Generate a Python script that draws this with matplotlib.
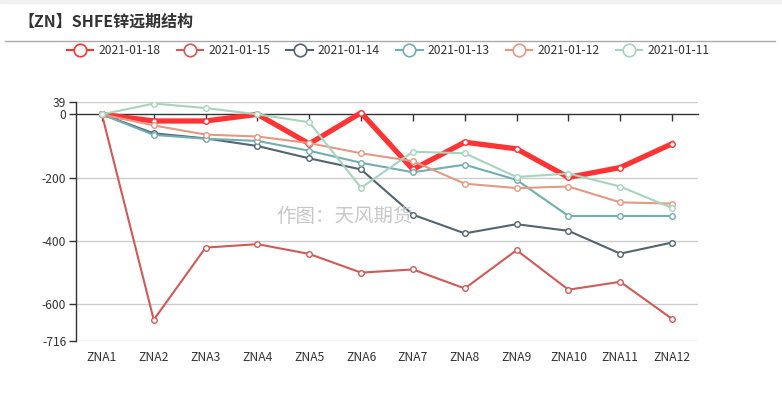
import numpy as np
import matplotlib
matplotlib.use('Agg')
import matplotlib.pyplot as plt
from matplotlib.lines import Line2D

plt.rcParams['font.family'] = ['Noto Sans CJK SC', 'DejaVu Sans']

W, H = 782, 397

contracts = ['ZNA1', 'ZNA2', 'ZNA3', 'ZNA4', 'ZNA5', 'ZNA6',
             'ZNA7', 'ZNA8', 'ZNA9', 'ZNA10', 'ZNA11', 'ZNA12']
dates = ['2021-01-18', '2021-01-15', '2021-01-14', '2021-01-13', '2021-01-12', '2021-01-11']

s0118 = [0, -21, -21, 0, -93, 5, -174, -88, -109, -199, -168, -93]
s0115 = [0, -649, -421, -410, -441, -500, -490, -550, -429, -554, -529, -646]
s0114 = [0, -60, -76, -100, -139, -174, -317, -376, -347, -368, -440, -405]
s0113 = [0, -65, -77, -84, -115, -153, -183, -159, -207, -321, -321, -321]
s0112 = [0, -35, -64, -70, -91, -123, -148, -219, -233, -228, -278, -282]
s0111 = [0, 34, 20, 0, -25, -232, -118, -123, -198, -187, -228, -296]

yticks = [39, 0, -200, -400, -600, -716]

series = [s0118, s0115, s0114, s0113, s0112, s0111]
colors = ['#ff3333', '#d05a57', '#546570', '#72aeb1', '#e29a82', '#a6d4bc']
widths = [3.8, 1.5, 1.5, 1.5, 1.5, 1.5]

fig = plt.figure(figsize=(W / 100, H / 100), dpi=100)

# top band + title rule
fig.patches.append(plt.Rectangle((0, 1 - 3 / H), 1, 3 / H, transform=fig.transFigure,
                                 color='#f0f0f0', zorder=0))
fig.lines.append(Line2D([5 / W, 775 / W], [1 - 41 / H, 1 - 41 / H], transform=fig.transFigure,
                        color='#aaaaaa', lw=1))
fig.text(18 / W, 1 - 22 / H, '【ZN】SHFE锌远期结构', fontsize=11.5, fontweight='bold',
         color='#333333', va='center', ha='left')

left, right, top, bottom = 76, 698, 102, 341
ax = fig.add_axes([left / W, 1 - bottom / H, (right - left) / W, (bottom - top) / H])

x = np.arange(len(contracts))
for i, (d, s) in enumerate(zip(dates, series)):
    ax.plot(x, s, color=colors[i], lw=widths[i], marker='o', markersize=4,
            markerfacecolor='white', markeredgecolor=colors[i], markeredgewidth=1,
            zorder=3 + i, solid_joinstyle='round')

ax.set_xlim(-0.5, len(contracts) - 0.5)
ax.set_ylim(min(yticks), max(yticks))
ax.set_yticks(yticks)
ax.set_yticklabels([str(v) for v in yticks])
for v in yticks:
    if v != 0:
        ax.axhline(v, color='#cccccc', lw=1, zorder=1)

ax.set_xticks(x)
ax.set_xticklabels(contracts)
ax.tick_params(axis='x', length=0, pad=7, labelsize=8.7, labelcolor='#333333')
ax.tick_params(axis='y', length=5, width=1, color='#333333', labelsize=8.7, labelcolor='#333333', pad=2)

for sp in ['top', 'right', 'bottom']:
    ax.spines[sp].set_visible(False)
ax.spines['left'].set_color('#333333')
ax.spines['left'].set_linewidth(1)

# zero axis line with ticks
sec = ax.secondary_xaxis(0, transform=ax.transData)
sec.set_xticks(x)
sec.set_xticklabels([])
sec.tick_params(direction='out', length=5, width=1, color='#333333')
sec.spines['bottom'].set_color('#333333')
sec.spines['bottom'].set_linewidth(1)

# legend
handles = [Line2D([0], [0], color=c, lw=1.5, marker='o', markersize=9,
                  markerfacecolor='white', markeredgecolor=c, markeredgewidth=1.2)
           for c in colors]
fig.legend(handles, dates, loc='center', bbox_to_anchor=(388 / W, 1 - 51 / H), ncol=6,
           frameon=False, fontsize=8.7, handlelength=2.2, handletextpad=0.4,
           columnspacing=1.35, labelcolor='#333333')

fig.text(345 / W, 1 - 217 / H, '作图：天风期货', fontsize=14, color='#c8c8c8',
         ha='center', va='center', zorder=10)

fig.savefig('out.png', dpi=100)
